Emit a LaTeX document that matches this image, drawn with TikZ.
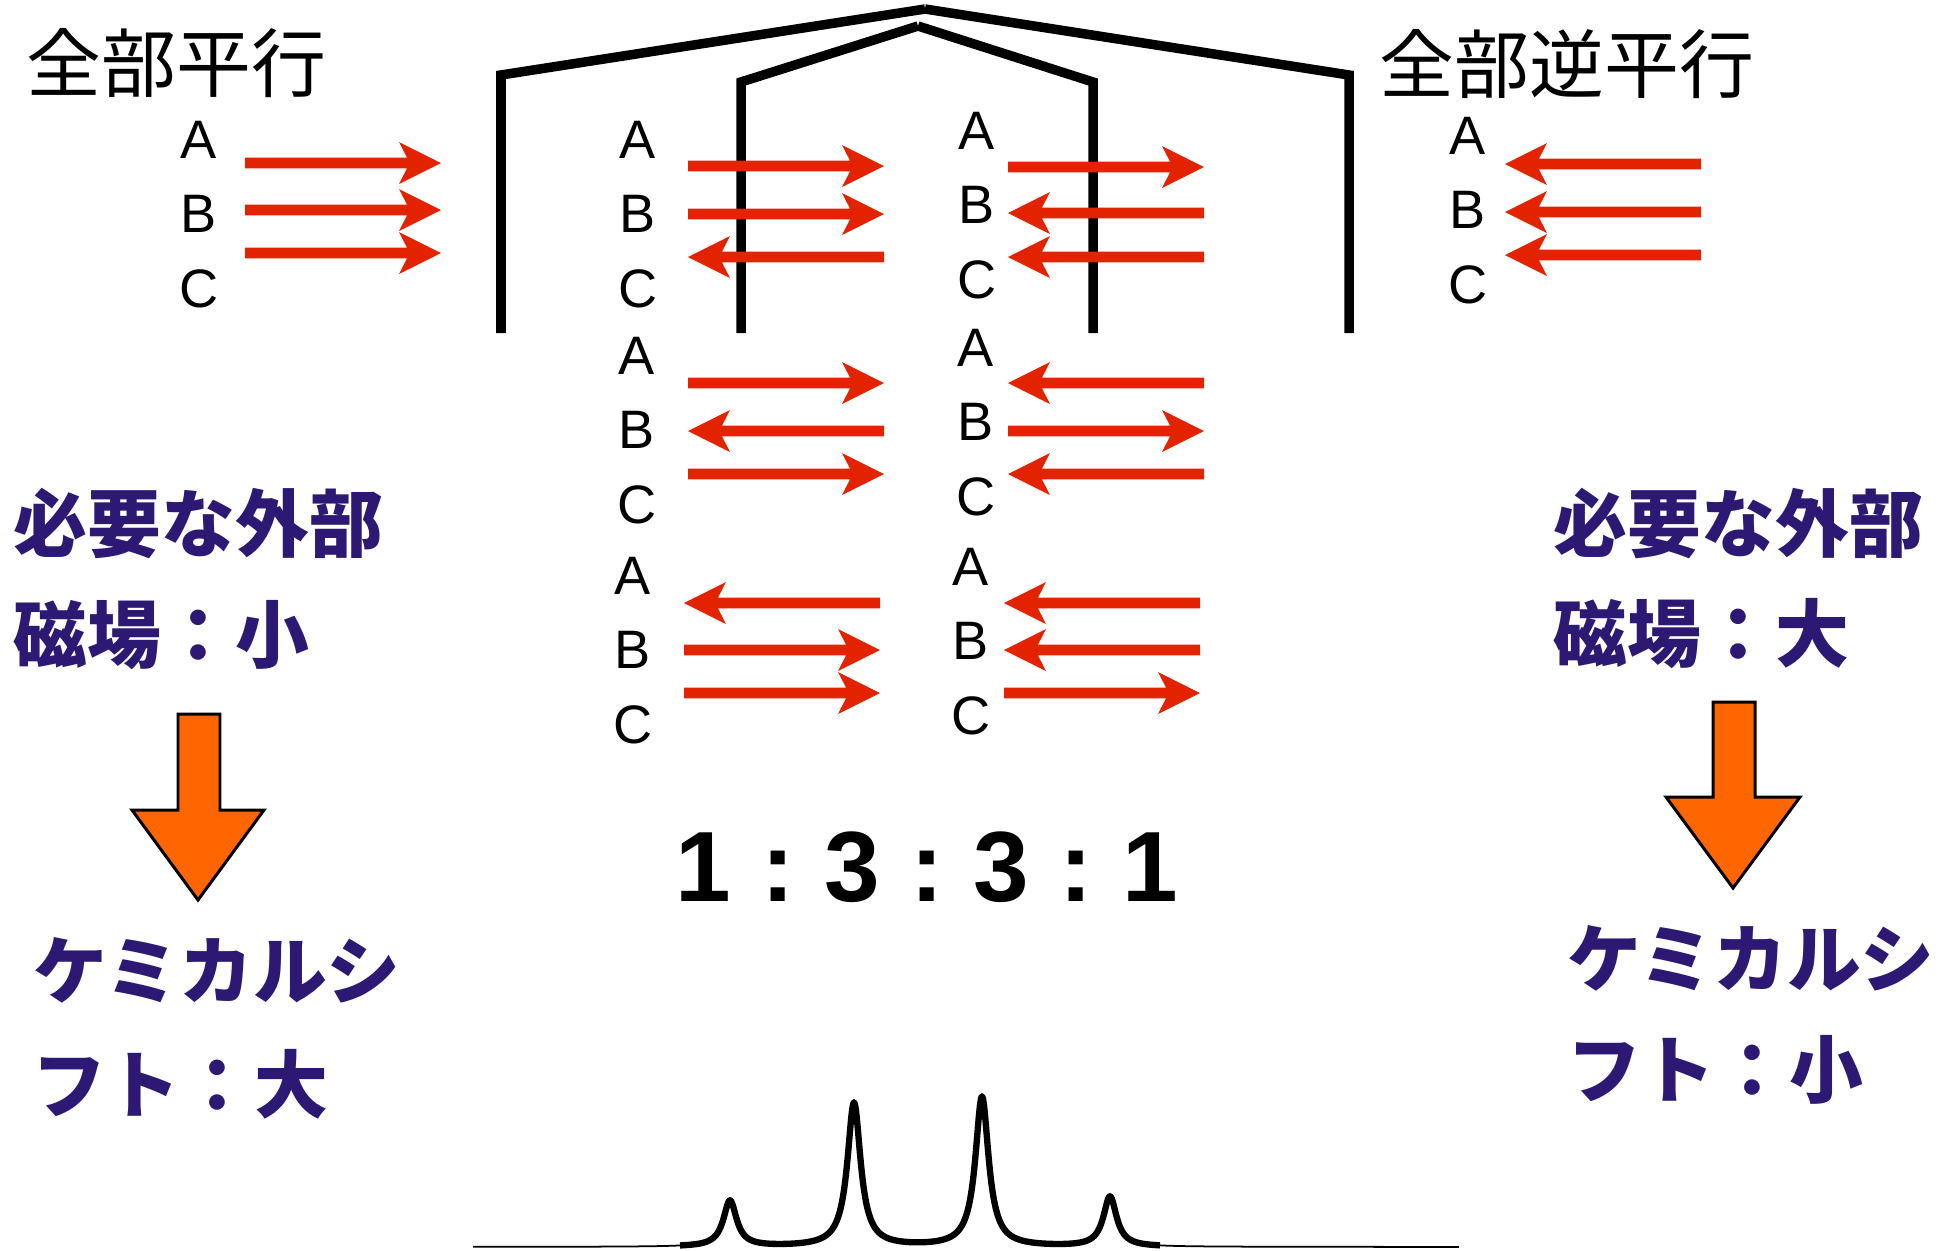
\documentclass[tikz,border=0pt]{standalone}
\usepackage{fontspec}
\newfontfamily\cjk{Noto Sans CJK JP}
\newfontfamily\lsans{Liberation Sans}
\definecolor{spinred}{RGB}{227,35,0}
\definecolor{notepurple}{RGB}{45,25,115}
\definecolor{blockorange}{RGB}{255,102,0}
\newcommand\ratiogap{\hspace{0.3cm}}
\tikzset{
  spinfill/.style={fill=spinred},
  spinr/.pic={\fill[spinfill] (0,-5.4) -- (162,-5.4) -- (154,-21) -- (196,0) -- (154,21) -- (162,5.4) -- (0,5.4) -- cycle;},
  spinl/.pic={\fill[spinfill] (196,-5.4) -- (34,-5.4) -- (42,-21) -- (0,0) -- (42,21) -- (34,5.4) -- (196,5.4) -- cycle;},
  heading/.style={font=\cjk\fontsize{21.3pt}{24pt}\selectfont, anchor=west, inner sep=0pt},
  note/.style={font=\cjk\bfseries\fontsize{21pt}{24pt}\selectfont, text=notepurple, anchor=west, inner sep=0pt},
  lab/.style={font=\lsans\fontsize{15.4pt}{18pt}\selectfont, inner sep=0pt},
  ratio/.style={font=\lsans\bfseries\fontsize{28.4pt}{32pt}\selectfont, inner sep=0pt},
  tree/.style={line width=0.095cm, line cap=butt, line join=miter},
  block/.style={fill=blockorange, draw=black, line width=0.85pt, line join=miter},
}
% quartet line shape: four Lorentzian lines, t in units of 10 drawing units
\newcommand\quartet[1]{1247 - 29.44/((#1-73.0)^2+0.64) - 92.16/((#1-85.4)^2+0.64)
   - 96/((#1-98.2)^2+0.64) - 32/((#1-111.0)^2+0.64)}
\begin{document}
\begin{tikzpicture}[x=0.01cm, y=-0.01cm]
\useasboundingbox (0,0) rectangle (1950,1250);

% headings
\node[heading] (hpar) at (26,63) {全部平行};
\node[heading] (hanti) at (1379,64) {全部逆平行};

% splitting tree
\draw[tree] (501,333) -- (501,75) -- (925,9);
\draw[tree] (1349,333) -- (1349,75) -- (925,9);
\draw[tree] (741,333) -- (741,82) -- (918,26);
\draw[tree] (1093,333) -- (1093,82) -- (918,26);

% spin labels
\foreach \g/\x/\y in {L/199/140, P/638/140, Q/977/131, R/1468/136,
                      S/637/356, T/976/348, U/633/576, V/971/567}{
  \node[lab] (\g A) at (\x,\y) {A};
  \node[lab] (\g B) at (\x,\y+74) {B};
  \node[lab] (\g C) at (\x,\y+148.5) {C};
}

% spin arrows
\pic (l1) at (245,163) {spinr};
\pic (l2) at (245,210) {spinr};
\pic (l3) at (245,253) {spinr};
\pic (p1) at (688,166) {spinr};
\pic (p2) at (688,214) {spinr};
\pic (p3) at (688,257) {spinl};
\pic (q1) at (1008,167) {spinr};
\pic (q2) at (1008,213) {spinl};
\pic (q3) at (1008,257) {spinl};
\pic (r1) at (1505,164) {spinl};
\pic (r2) at (1505,212) {spinl};
\pic (r3) at (1505,255) {spinl};
\pic (s1) at (688,383) {spinr};
\pic (s2) at (688,431) {spinl};
\pic (s3) at (688,474) {spinr};
\pic (t1) at (1008,383) {spinl};
\pic (t2) at (1008,431) {spinr};
\pic (t3) at (1008,474) {spinl};
\pic (u1) at (684,603) {spinl};
\pic (u2) at (684,650) {spinr};
\pic (u3) at (684,693) {spinr};
\pic (v1) at (1004,603) {spinl};
\pic (v2) at (1004,650) {spinl};
\pic (v3) at (1004,693) {spinr};

% notes, left
\node[note] (nl1) at (13,523) {必要な外部};
\node[note] (nl2) at (13,635) {磁場：小};
\node[note] (nl3) at (33,970) {ケミカルシ};
\node[note] (nl4) at (32,1084) {フト：大};
% notes, right
\node[note] (nr1) at (1553,523) {必要な外部};
\node[note] (nr2) at (1553,634) {磁場：大};
\node[note] (nr3) at (1567,958) {ケミカルシ};
\node[note] (nr4) at (1567,1070) {フト：小};

% block arrows
\draw[block] (178,714) -- (220,714) -- (220,810) -- (264,810) -- (198,900)
  -- (132,810) -- (178,810) -- cycle;
\draw[block] (1713,702) -- (1755,702) -- (1755,797) -- (1800,797) -- (1733,888)
  -- (1666,797) -- (1713,797) -- cycle;

% intensity ratio
\node[ratio] (rat) at (927,867) {1\ratiogap:\ratiogap3\ratiogap:\ratiogap3\ratiogap:\ratiogap1};

% quartet spectrum
\draw[line width=0.5pt] plot[domain=47.3:145.9, samples=987]
  ({10*\x}, {\quartet{\x}});
\draw[line width=1.8pt, line join=round] plot[domain=68:116, samples=481]
  ({10*\x}, {\quartet{\x}});
\end{tikzpicture}
\end{document}
